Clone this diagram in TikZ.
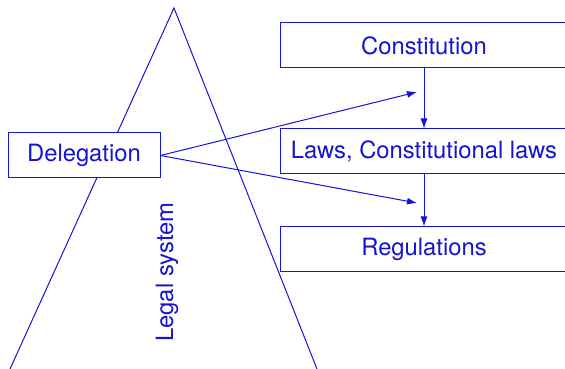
\documentclass[tikz,border=0pt]{standalone}
\usepackage{fontspec}
\setmainfont{TeX Gyre Heros}
\usetikzlibrary{arrows.meta}
\definecolor{ink}{RGB}{20,20,210}
\tikzset{
  lbl/.style={text=ink, font=\fontsize{23.8}{28}\selectfont},
  levelbox/.style={lbl, draw=ink, line width=1pt, minimum width=288pt, minimum height=45pt, inner sep=0pt},
  delbox/.style={lbl, draw=ink, line width=1pt, minimum width=152pt, minimum height=45pt, inner sep=0pt},
  link/.style={draw=ink, line width=1pt, -{Latex[length=10pt,width=7pt]}},
  edge/.style={draw=ink, line width=1pt}
}
\begin{document}
\begin{tikzpicture}[x=1pt,y=1pt]
  \useasboundingbox (0,0) rectangle (565,369);
  \clip (0,0) rectangle (565,369);
  % the pyramid of the legal system
  \coordinate (apex) at (174,361);
  \coordinate (baseL) at (10,0);
  \coordinate (baseR) at (317,0);
  \draw[edge] (baseL) -- (apex) -- (baseR);
  \node[lbl, rotate=90, anchor=base] (legal) at (173,97) {Legal system};
  % hierarchy of norms
  \node[levelbox] (const) at (424,323.5) {Constitution};
  \node[levelbox, fill=white] (laws) at (424,217.5) {Laws, Constitutional laws};
  \node[levelbox, fill=white] (regs) at (424,119.5) {Regulations};
  \draw[link] (const) -- (laws);
  \draw[link] (laws) -- (regs);
  % delegation
  \node[delbox, fill=white] (deleg) at (84,213.5) {Delegation};
  \coordinate (upTip) at (417,277);
  \coordinate (downTip) at (417,166);
  \draw[link] (deleg.east) -- (upTip);
  \draw[link] (deleg.east) -- (downTip);
\end{tikzpicture}
\end{document}
